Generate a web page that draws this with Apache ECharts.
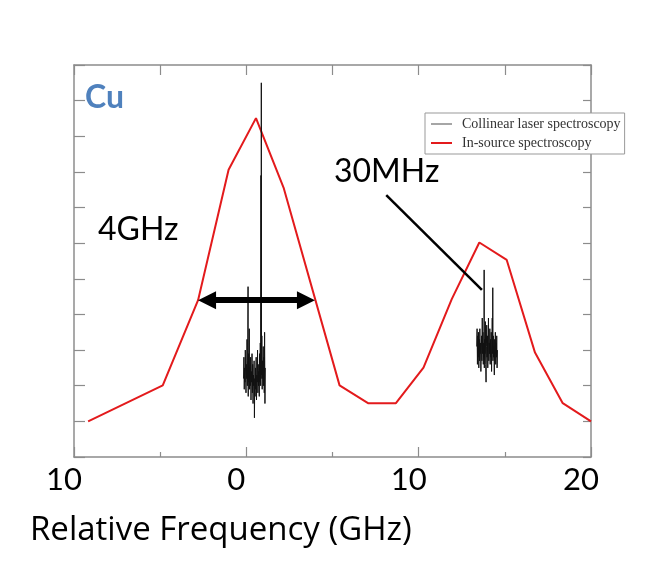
<!DOCTYPE html>
<html>
<head>
<meta charset="utf-8">
<script src="https://cdn.jsdelivr.net/npm/echarts@6/dist/echarts.min.js"></script>
<style>
html,body{margin:0;padding:0;background:#fff;}
#chart{width:656px;height:574px;}
</style>
</head>
<body>
<div id="chart"></div>
<script>
// In-source spectroscopy (red)
var redX = [-9.18, -4.85, -2.80, -1.03, 0.56, 2.16, 5.41, 7.06, 8.68, 10.28, 11.92, 13.52, 15.11, 16.75, 18.36, 20.0];
var redY = [0.0, 1.01, 3.40, 7.06, 8.51, 6.56, 1.01, 0.51, 0.51, 1.51, 3.43, 5.02, 4.53, 1.93, 0.51, 0.0];

// Collinear laser spectroscopy, first group
var specAX = [-0.16,-0.14,-0.12,-0.10,-0.08,-0.06,-0.04,-0.02,0.00,0.02,0.04,0.06,0.08,0.10,
  0.11,0.13,0.15,0.17,0.19,0.21,0.23,0.25,0.27,0.29,0.31,0.33,0.35,0.37,0.39,0.41,0.43,0.45,0.47,0.49,
  0.51,0.53,0.55,0.57,0.59,0.61,0.63,0.65,0.67,0.69,0.71,0.73,0.75,0.77,0.79,0.81,0.83,
  0.85,0.86,0.87,0.88,
  0.90,0.92,0.94,0.96,0.98,1.00,1.02,1.04,1.06,1.08,1.10];
var specAY = [1.2,1.8,0.9,1.5,1.1,2.0,1.3,0.8,1.6,1.2,2.3,1.0,1.7,3.78,
  0.7,1.9,1.1,2.6,0.9,1.5,1.0,1.8,0.6,1.4,1.1,1.9,0.8,1.6,0.5,1.3,1.0,1.7,0.1,1.2,
  0.7,1.5,0.9,1.8,0.6,1.3,1.1,2.0,0.8,1.6,1.0,1.4,0.7,1.9,1.1,2.2,1.0,
  6.9,1.2,9.5,1.3,
  2.4,0.9,1.7,1.2,2.1,1.0,1.8,0.8,2.5,0.5,1.5];

// Collinear laser spectroscopy, second group
var specBX = [13.37,13.39,13.41,13.43,13.45,13.47,13.49,13.51,13.53,13.55,13.57,13.59,13.61,13.63,13.65,13.67,13.69,13.71,13.73,13.75,13.77,13.79,
  13.80,
  13.81,13.83,13.85,13.87,13.89,13.91,13.93,13.95,13.97,13.99,14.01,14.03,14.05,14.07,14.09,14.11,14.13,14.15,14.17,14.19,14.21,14.23,14.25,14.27,14.29,
  14.30,
  14.31,14.33,14.35,14.37,14.39,14.41,14.43,14.45,14.47,14.49,14.51,14.53,14.55,14.57];
var specBY = [2.1,2.6,1.6,2.4,1.8,2.5,1.5,2.3,1.7,2.6,1.9,2.2,1.4,2.0,2.4,1.7,2.9,1.9,2.5,1.6,2.2,1.8,
  4.25,
  1.5,2.3,1.9,2.8,1.6,1.1,2.1,2.7,1.8,2.4,1.5,2.0,2.9,1.7,2.2,1.9,2.6,1.6,2.3,1.8,2.5,1.4,2.2,2.9,1.9,
  3.75,
  1.7,2.4,1.8,2.1,1.3,2.3,1.9,2.5,1.6,2.2,1.8,2.4,1.5,2.0];

var xTickLabels = {'-10':'10','0':'0','10':'10','20':'20'};

function pairs(xs, ys){ return xs.map(function(x,i){ return [x, ys[i]]; }); }

var nameA = 'Collinear laser spectroscopy';
var nameB = 'In-source spectroscopy';
var frame = '#8c8c8c';
var bigFont = 'Lato, "Open Sans", sans-serif';

var chart = echarts.init(document.getElementById('chart'), null, {renderer:'canvas'});
chart.setOption({
  animation: false,
  backgroundColor: '#fff',
  grid: {left: 74, right: 65, top: 65, bottom: 117},
  title: {
    text: 'Relative Frequency (GHz)',
    left: 25, top: 509,
    textStyle: {fontFamily: '"Open Sans", sans-serif', fontSize: 33, fontWeight: 'normal', color: '#000'}
  },
  legend: {
    orient: 'vertical',
    left: 425, top: 113,
    backgroundColor: '#fff',
    borderColor: '#999', borderWidth: 1,
    padding: [4, 4, 4, 5],
    itemWidth: 21, itemHeight: 14, itemGap: 5,
    textStyle: {fontFamily: '"Liberation Serif", serif', fontSize: 14, color: '#333', padding: [0,0,0,5]},
    data: [
      {name: nameA, lineStyle: {color: '#888', width: 1.5}, itemStyle: {opacity: 0}},
      {name: nameB, lineStyle: {color: '#e31a1c', width: 2}, itemStyle: {opacity: 0}}
    ]
  },
  xAxis: [{
    type: 'value', min: -10, max: 20, interval: 10, position: 'bottom',
    axisLine: {show: true, onZero: false, lineStyle: {color: frame, width: 1.5}},
    axisTick: {show: true, inside: true, length: 10, lineStyle: {color: frame, width: 1.2}},
    minorTick: {show: true, splitNumber: 2, length: 5, lineStyle: {color: frame, width: 1.2}},
    splitLine: {show: false}, minorSplitLine: {show: false},
    axisLabel: {
      fontFamily: bigFont, fontSize: 31, color: '#000', margin: 7, lineHeight: 31,
      padding: [0, 20, 0, 0],
      formatter: function(v){ return xTickLabels[String(v)] !== undefined ? xTickLabels[String(v)] : String(v); }
    }
  }, {
    type: 'value', min: -10, max: 20, interval: 5, position: 'top',
    axisLine: {show: true, onZero: false, lineStyle: {color: frame, width: 1.5}},
    axisTick: {show: true, inside: true, length: 10, lineStyle: {color: frame, width: 1.2}},
    axisLabel: {show: false}, splitLine: {show: false}
  }],
  yAxis: [{
    type: 'value', min: -1, max: 10, interval: 1, position: 'left',
    axisLine: {show: true, onZero: false, lineStyle: {color: frame, width: 1.5}},
    axisTick: {show: true, inside: true, length: 11, lineStyle: {color: frame, width: 1.2}},
    axisLabel: {show: false}, splitLine: {show: false}
  }, {
    type: 'value', min: -1, max: 10, interval: 1, position: 'right',
    axisLine: {show: true, onZero: false, lineStyle: {color: frame, width: 1.5}},
    axisTick: {show: true, inside: true, length: 8, lineStyle: {color: frame, width: 1.2}},
    axisLabel: {show: false}, splitLine: {show: false}
  }],
  series: [{
    name: nameA, type: 'line', data: pairs(specAX, specAY),
    symbol: 'none', silent: true, z: 3,
    lineStyle: {color: '#111', width: 1}, itemStyle: {color: '#111'}
  }, {
    name: nameA, type: 'line', data: pairs(specBX, specBY),
    symbol: 'none', silent: true, z: 3,
    lineStyle: {color: '#111', width: 1}, itemStyle: {color: '#111'}
  }, {
    name: nameB, type: 'line', data: pairs(redX, redY),
    symbol: 'none', silent: true, z: 2,
    lineStyle: {color: '#e31a1c', width: 2}, itemStyle: {color: '#e31a1c'},
    markLine: {
      silent: true, animation: false,
      label: {show: false},
      emphasis: {disabled: true},
      data: [
        [{coord: [-2.28, 3.4], symbol: 'triangle', symbolSize: [18, 18], lineStyle: {color: '#000', width: 6, type: 'solid'}},
         {coord: [3.46, 3.4], symbol: 'triangle', symbolSize: [18, 18]}],
        [{coord: [8.12, 6.35], symbol: 'none', lineStyle: {color: '#000', width: 2.5, type: 'solid'}},
         {coord: [13.67, 3.69], symbol: 'none'}]
      ]
    }
  }],
  graphic: [
    {type: 'text', left: 85, top: 82, z: 10, style: {text: 'Cu', fontFamily: bigFont, fontSize: 32, fontWeight: 'bold', fill: '#4f81bd'}},
    {type: 'text', left: 98, top: 214, z: 10, style: {text: '4GHz', fontFamily: bigFont, fontSize: 32, fill: '#000'}},
    {type: 'text', left: 334, top: 156, z: 10, style: {text: '30MHz', fontFamily: bigFont, fontSize: 32, fill: '#000'}}
  ]
});
</script>
</body>
</html>
